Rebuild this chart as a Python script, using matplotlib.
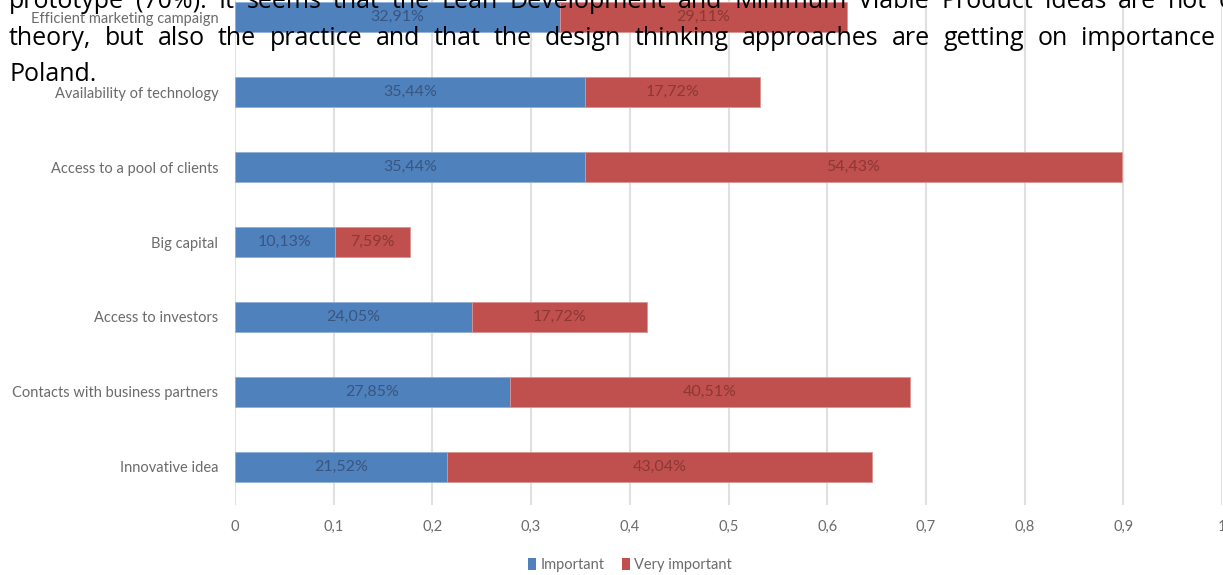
import matplotlib
matplotlib.use("Agg")
import matplotlib.pyplot as plt
from matplotlib.patches import Patch

# ---------------- data ----------------
categories = ["Innovative idea", "Contacts with business partners", "Access to investors",
              "Big capital", "Access to a pool of clients", "Availability of technology",
              "Efficient marketing campaign"]
important = [0.2152, 0.2785, 0.2405, 0.1013, 0.3544, 0.3544, 0.3291]
very_important = [0.4304, 0.4051, 0.1772, 0.0759, 0.5443, 0.1772, 0.2911]
important_labels = ["21,52%", "27,85%", "24,05%", "10,13%", "35,44%", "35,44%", "32,91%"]
very_labels = ["43,04%", "40,51%", "17,72%", "7,59%", "54,43%", "17,72%", "29,11%"]
xticks = [0, 0.1, 0.2, 0.3, 0.4, 0.5, 0.6, 0.7, 0.8, 0.9, 1.0]
xtick_labels = ["0", "0,1", "0,2", "0,3", "0,4", "0,5", "0,6", "0,7", "0,8", "0,9", "1"]
series_names = ["Important", "Very important"]

doc_line1 = "prototype (70%). It seems that the Lean Development and Minimum Viable Product ideas are not"
doc_line1_tail = "only"
doc_line2 = "theory, but also the practice and that the design thinking approaches are getting on importance"
doc_line2_tail = "in"
doc_line3 = "Poland."

# ---------------- style ----------------
W, H = 1223, 575
DPI = 100
BLUE = "#4f81bd"
RED = "#c0504d"
GRID = "#e0e0e0"
GRAYTXT = "#6b6b6b"
FONT = "Lato"
DOC_FONT = "Open Sans"

plt.rcParams["font.family"] = [FONT, "DejaVu Sans"]

fig = plt.figure(figsize=(W / DPI, H / DPI), dpi=DPI)
ax = fig.add_axes([235 / W, 1 - 504.5 / H, 987 / W, 525 / H])

y = list(range(len(categories)))
bh = 0.4
ax.barh(y, important, height=bh, color=BLUE, edgecolor="#8fb0d8", linewidth=0.6, zorder=2)
ax.barh(y, very_important, left=important, height=bh, color=RED, edgecolor="#dc9492",
        linewidth=0.6, zorder=2)

for i in y:
    ax.text(important[i] / 2, i, important_labels[i], ha="center", va="center",
            fontsize=11.5, color="#3a5580", zorder=3)
    ax.text(important[i] + very_important[i] / 2, i, very_labels[i], ha="center", va="center",
            fontsize=11.5, color="#8c3835", zorder=3)

ax.set_xlim(0, 1.0)
ax.set_ylim(-0.5, len(categories) - 0.5)
ax.set_xticks(xticks)
ax.set_xticklabels(xtick_labels, fontsize=10.5, color=GRAYTXT)
ax.set_yticks(y)
ax.set_yticklabels(categories, fontsize=10.5, color=GRAYTXT)
ax.tick_params(axis="x", length=0, pad=11)
ax.tick_params(axis="y", length=0, pad=12)
ax.grid(axis="x", color=GRID, linewidth=1.5, zorder=0)
ax.set_axisbelow(True)
for s in ax.spines.values():
    s.set_visible(False)

handles = [Patch(facecolor=BLUE, edgecolor="none"), Patch(facecolor=RED, edgecolor="none")]
fig.legend(handles, series_names, loc="center", bbox_to_anchor=(630 / W, 1 - 565 / H),
           ncol=2, frameon=False, fontsize=10.5, labelcolor=GRAYTXT,
           handlelength=0.55, handleheight=0.9, handletextpad=0.3, columnspacing=1.2)

# ---------------- overlaid document text (justified) ----------------
renderer = fig.canvas.get_renderer()
FAM = [DOC_FONT, "DejaVu Sans"]


def word_width(w, fs):
    t = fig.text(0, 0, w, fontsize=fs, family=FAM)
    wd = t.get_window_extent(renderer).width
    t.remove()
    return wd


# pick a font size so that line 2 fills its width with natural ~13 px word gaps
words2 = doc_line2.split(" ")
ref_sum = sum(word_width(w, 10) for w in words2)
DOC_FS = 10 * ((1215 - 9) - 13 * (len(words2) - 1)) / ref_sum


def justified(line, tail, x0, x_end, baseline_px):
    words = line.split(" ")
    widths = [word_width(w, DOC_FS) for w in words]
    gap = (x_end - x0 - sum(widths)) / (len(words) - 1)
    x = x0
    for w, wd in zip(words, widths):
        fig.text(x / W, 1 - baseline_px / H, w, fontsize=DOC_FS, color="black",
                 family=FAM, va="baseline", ha="left", zorder=10)
        x += wd + gap
    if tail:
        fig.text(x / W, 1 - baseline_px / H, tail, fontsize=DOC_FS, color="black",
                 family=FAM, va="baseline", ha="left", zorder=10)


justified(doc_line1, doc_line1_tail, 9, 1207, 8)
justified(doc_line2, doc_line2_tail, 9, 1215, 45)
fig.text(9 / W, 1 - 81 / H, doc_line3, fontsize=DOC_FS, color="black",
         family=FAM, va="baseline", ha="left", zorder=10)

fig.savefig("out.png", dpi=DPI)
